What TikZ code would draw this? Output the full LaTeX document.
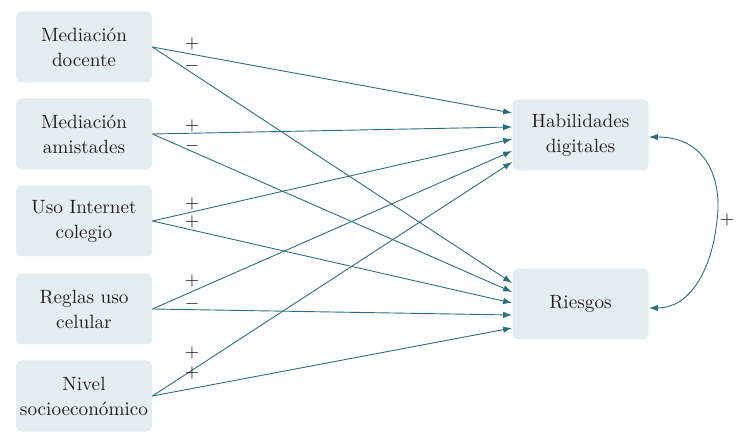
\documentclass[tikz,border=0pt]{standalone}
\usetikzlibrary{arrows.meta}
\definecolor{boxfill}{HTML}{E4EDF1}
\definecolor{linkcol}{HTML}{2D6E7E}
\definecolor{txtcol}{HTML}{231F20}
\tikzset{
    varbox/.style={fill=boxfill, rounded corners=3pt, minimum width=68pt, minimum height=35.5pt,
        align=center, text=txtcol, font=\fontsize{9.6}{12.5}\selectfont, inner sep=2pt},
    path/.style={draw=linkcol, line width=0.45pt, -{Latex[length=4.5pt,width=3.2pt]}},
    sign/.style={text=txtcol, font=\fontsize{9}{10}\selectfont, inner sep=0pt}
}
\begin{document}
\begin{tikzpicture}[x=0.5pt, y=-0.5pt]
    \useasboundingbox (0,0) rectangle (737,437);
    % predictors
    \node [varbox] (md) at (84,47) {Mediación\\docente};
    \node [varbox] (ma) at (84,134) {Mediación\\amistades};
    \node [varbox] (ui) at (84,221) {Uso Internet\\colegio};
    \node [varbox] (rc) at (84,309) {Reglas uso\\celular};
    \node [varbox] (ns) at (84,396) {Nivel\\socioeconómico};
    % outcomes
    \node [varbox] (hd) at (580.5,135) {Habilidades\\digitales};
    \node [varbox] (ri) at (580.5,304) {Riesgos};
    % paths
    \foreach \src/\hy/\ry in {md/113/283, ma/127/292, ui/139/303, rc/151/315, ns/162/328}
    {
        \draw [path] (\src.east) -- (hd.west |- 0,\hy);
        \draw [path] (\src.east) -- (ri.west |- 0,\ry);
    }
    % signs
    \node [sign] (s1a) at (192,44) {+};
    \node [sign] (s1b) at (192,66) {$-$};
    \node [sign] (s2a) at (192,126) {+};
    \node [sign] (s2b) at (192,146) {$-$};
    \node [sign] (s3a) at (192,204) {+};
    \node [sign] (s3b) at (192,222) {+};
    \node [sign] (s4a) at (192,281) {+};
    \node [sign] (s4b) at (192,304) {$-$};
    \node [sign] (s5a) at (192,353) {+};
    \node [sign] (s5b) at (192,373) {+};
    % covariance
    \draw [path, {Latex[length=4.5pt,width=3.2pt]}-{Latex[length=4.5pt,width=3.2pt]}]
        (hd.east |- 0,137) .. controls (710,137) and (722,185) .. (717,220)
        .. controls (712,270) and (690,308) .. (ri.east |- 0,308);
    \node [sign] (cov) at (727,220) {+};
\end{tikzpicture}
\end{document}
